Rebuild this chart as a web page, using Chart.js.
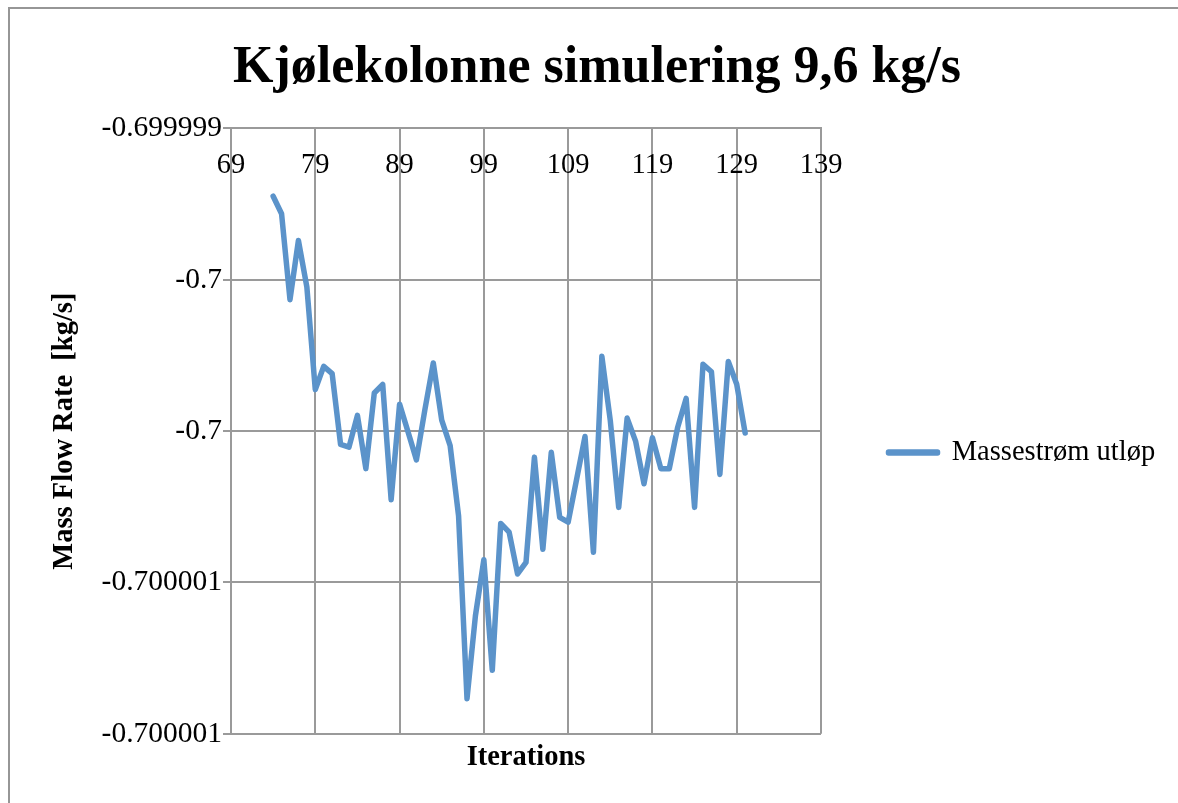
<!DOCTYPE html>
<html>
<head>
<meta charset="utf-8">
<title>Kjølekolonne simulering 9,6 kg/s</title>
<script src="https://cdn.jsdelivr.net/npm/chart.js@4.4.1/dist/chart.umd.min.js"></script>
<style>
html, body { margin: 0; padding: 0; background: #fff; }
#wrap { position: relative; width: 1178px; height: 803px; overflow: hidden; }
#frame { position: absolute; left: 8px; top: 7px; width: 1220px; height: 840px; border: 2px solid #969696; pointer-events: none; }
</style>
</head>
<body>
<div id="wrap">
<canvas id="chart1" width="1178" height="803"></canvas>
<div id="frame"></div>
</div>
<script>
// iteration number and outlet mass flow (kg/s)
var iterations = [
	74, 75, 76, 77, 78, 79, 80, 81, 82, 83,
	84, 85, 86, 87, 88, 89, 90, 91, 92, 93,
	94, 95, 96, 97, 98, 99, 100, 101, 102, 103,
	104, 105, 106, 107, 108, 109, 110, 111, 112, 113,
	114, 115, 116, 117, 118, 119, 120, 121, 122, 123,
	124, 125, 126, 127, 128, 129, 130
];
var massFlow = [
	-0.699999224, -0.699999282, -0.699999566, -0.69999937, -0.699999524,
	-0.699999863, -0.699999786, -0.69999981, -0.700000044, -0.700000053,
	-0.699999948, -0.700000124, -0.699999874, -0.699999846, -0.700000227,
	-0.699999911, -0.700000002, -0.700000095, -0.69999993, -0.699999775,
	-0.699999964, -0.700000048, -0.70000028, -0.700000884, -0.70000061,
	-0.700000425, -0.70000079, -0.700000305, -0.700000334, -0.700000472,
	-0.700000434, -0.700000086, -0.70000039, -0.70000007, -0.700000285,
	-0.700000301, -0.70000016, -0.700000018, -0.7000004, -0.699999753,
	-0.699999965, -0.700000252, -0.699999957, -0.700000033, -0.700000174,
	-0.700000022, -0.700000124, -0.700000124, -0.699999987, -0.699999892,
	-0.700000252, -0.699999779, -0.699999804, -0.700000143, -0.69999977,
	-0.699999845, -0.700000006
];
var xTickValues = [69, 79, 89, 99, 109, 119, 129, 139];
var yTickValues = [-0.699999, -0.6999995, -0.7, -0.7000005, -0.700001];
var yTickLabels = ["-0.699999", "-0.7", "-0.7", "-0.700001", "-0.700001"];

var lineColor = "rgb(91,147,202)";
var gridColor = "#9a9a9a";
var serif = "'Liberation Serif', 'Times New Roman', serif";
var legendBoxWidth = 357;

var points = iterations.map(function(it, i) {
	return {x: it, y: massFlow[i]};
});

// the legend is normally capped at a quarter of the width; give it a fixed box
var wideLegend = {
	id: "wideLegend",
	beforeLayout: function(chart) {
		var legend = chart.legend;
		if (legend && !legend._wideFit) {
			var fit = legend.fit;
			legend.fit = function() {
				fit.call(this);
				this.width = legendBoxWidth;
			};
			legend._wideFit = true;
		}
	}
};

let myChart1 = document.getElementById("chart1").getContext('2d');

var data = {
	datasets: [
		{
			label: "Massestrøm utløp",
			data: points,
			xAxisID: "x",
			yAxisID: "y",
			borderColor: lineColor,
			backgroundColor: lineColor,
			borderWidth: 5.5,
			borderJoinStyle: "round",
			borderCapStyle: "round",
			pointRadius: 0,
			tension: 0,
			fill: false
		}
	]
};

var options = {
	responsive: false,
	animation: false,
	layout: {
		padding: {top: 8, left: 16, right: 0, bottom: 28}
	},
	plugins: {
		title: {
			display: true,
			position: "top",
			text: "Kjølekolonne simulering 9,6 kg/s",
			color: "#000",
			font: {family: serif, size: 52, weight: "bold"},
			padding: {top: 29, bottom: 29}
		},
		legend: {
			display: true,
			position: "right",
			align: "center",
			fullSize: false,
			// blank title only pushes the single entry a little below centre
			title: {
				display: true,
				text: " ",
				font: {family: serif, size: 30},
				padding: 3.5
			},
			labels: {
				color: "#000",
				font: {family: serif, size: 28.5},
				boxWidth: 49,
				boxHeight: 1,
				padding: 67.5
			}
		},
		tooltip: {enabled: false}
	},
	scales: {
		x: {
			type: "linear",
			min: 69,
			max: 139,
			position: {y: -0.699999},
			afterBuildTicks: function(axis) {
				axis.ticks = xTickValues.map(function(v) { return {value: v}; });
			},
			ticks: {
				color: "#000",
				font: {family: serif, size: 28.5},
				padding: 20,
				maxRotation: 0,
				autoSkip: false,
				callback: function(value) { return String(value); }
			},
			grid: {color: gridColor, lineWidth: 2, drawTicks: false},
			border: {color: gridColor, width: 2}
		},
		xTitle: {
			type: "linear",
			axis: "x",
			min: 69,
			max: 139,
			position: "bottom",
			grid: {display: false, drawTicks: false},
			ticks: {display: false},
			border: {display: false},
			title: {
				display: true,
				text: "Iterations",
				color: "#000",
				font: {family: serif, size: 28.5, weight: "bold"},
				padding: {top: 7, bottom: 0}
			}
		},
		y: {
			type: "linear",
			position: "left",
			min: -0.700001,
			max: -0.699999,
			afterBuildTicks: function(axis) {
				axis.ticks = yTickValues.map(function(v) { return {value: v}; });
			},
			afterFit: function(axis) {
				axis.width = 215;
			},
			ticks: {
				color: "#000",
				font: {family: serif, size: 29.5},
				padding: 1,
				autoSkip: false,
				callback: function(value, index) { return yTickLabels[index]; }
			},
			grid: {color: gridColor, lineWidth: 2, tickLength: 8},
			border: {color: gridColor, width: 2},
			title: {
				display: true,
				text: "Mass Flow Rate  [kg/s]",
				color: "#000",
				font: {family: serif, size: 28.5, weight: "bold"},
				padding: {top: 32, bottom: 0}
			}
		}
	}
};

let chart1 = new Chart(myChart1, {
	type: "line",
	data: data,
	options: options,
	plugins: [wideLegend]
});
</script>
</body>
</html>
